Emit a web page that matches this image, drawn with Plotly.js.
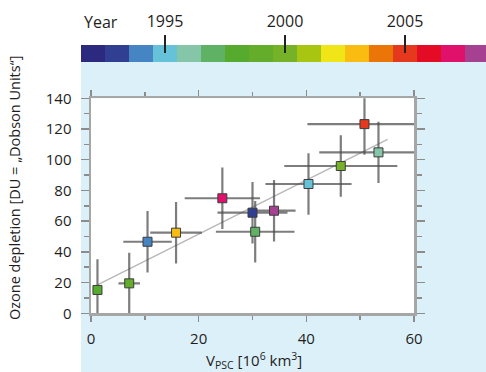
<!DOCTYPE html>
<html><head><meta charset="utf-8">
<script src="https://cdn.plot.ly/plotly-3.0.1.min.js"></script>
<style>html,body{margin:0;padding:0;background:#fff}#chart{width:486px;height:372px}</style>
</head><body><div id="chart"></div>
<script>
// Colour scale of the years
const years = [1992,1993,1994,1995,1996,1997,1998,1999,2000,2001,2002,2003,2004,2005,2006,2007,2008];
const yearColors = ['#2b2a7f','#313f92','#4585c4','#66c2d9','#85c5a8','#5fb264','#56ab2f','#63ad2b','#75b227','#a8c512','#f0e516','#fbbc12','#ec7508','#e5381d','#e30c24','#e0116a','#a54190'];
const yearTickVals = [1995,2000,2005];

// Winters: V_PSC (10^6 km^3) vs ozone depletion (DU)
const pointYears = [1998,1999,1994,2003,2007,1993,2008,1997,1995,2000,2005,1996];
const vpsc      = [1.2, 7.1, 10.5, 15.8, 24.4, 30.0, 34.0, 30.5, 40.4, 46.4, 50.8, 53.4];
const vpscErr   = [0.5, 2.0, 4.5, 4.8, 7.0, 6.5, 4.0, 7.3, 8.0, 10.5, 10.6, 11.0];
const ozoneLoss = [15.2, 19.5, 46.6, 52.5, 74.9, 65.5, 66.8, 53.1, 84.2, 95.9, 123.2, 104.8];
const ozoneErr  = [20, 20, 20, 20, 20, 20, 20, 20, 20, 20, 20, 20];
const fitXRange = [1.2, 55.1];

const xTickVals = [0,20,40,60];
const yTickVals = [0,20,40,60,80,100,120,140];

// least squares fit
const n = vpsc.length;
const mx = vpsc.reduce((a,b)=>a+b,0)/n;
const my = ozoneLoss.reduce((a,b)=>a+b,0)/n;
let sxy=0,sxx=0;
for(let i=0;i<n;i++){sxy+=(vpsc[i]-mx)*(ozoneLoss[i]-my);sxx+=(vpsc[i]-mx)**2;}
const slope = sxy/sxx, icpt = my-slope*mx;
const fitY = fitXRange.map(x=>icpt+slope*x);

const pointColors = pointYears.map(y=>yearColors[years.indexOf(y)]);

const W=486,H=372;
const px = v => v/W;
const py = v => (H-v)/H;
const axisGray = '#a6a6a6';
const txt = '#1e1e1e';

const traces = [
  {type:'bar', x:years, y:years.map(()=>1), width:1, base:0, xaxis:'x2', yaxis:'y2',
   marker:{color:yearColors, line:{width:0}}, hoverinfo:'skip'},
  {type:'scatter', mode:'lines', x:fitXRange, y:fitY, line:{color:'#b8b8b8', width:1.5}, hoverinfo:'skip'},
  {type:'scatter', mode:'markers', x:vpsc, y:ozoneLoss,
   error_x:{type:'data', array:vpscErr, color:'rgba(75,75,75,0.72)', thickness:2.2, width:0},
   error_y:{type:'data', array:ozoneErr, color:'rgba(75,75,75,0.72)', thickness:2.2, width:0},
   marker:{symbol:'square', size:9, color:pointColors, line:{color:'#3c3c3c', width:1}}}
];

const layout = {
  width:W, height:H, margin:{l:0,r:0,t:0,b:0},
  paper_bgcolor:'#ffffff', plot_bgcolor:'rgba(0,0,0,0)', showlegend:false,
  font:{family:'Open Sans, sans-serif', size:15, color:txt},
  bargap:0,
  xaxis:{domain:[px(91),px(414)], range:[0,60], anchor:'y',
    tickvals:xTickVals, ticks:'outside', ticklen:6, tickwidth:1.5, tickcolor:'#8c8c8c',
    minor:{dtick:10, ticks:'outside', ticklen:4, tickwidth:1.5, tickcolor:'#8c8c8c'},
    showline:true, linecolor:axisGray, linewidth:2.5, mirror:'ticks',
    showgrid:false, zeroline:false, ticklabelstandoff:4, tickfont:{size:15, color:txt}},
  yaxis:{domain:[py(313.3),py(98.3)], range:[0,140], anchor:'x',
    tickvals:yTickVals, ticks:'outside', ticklen:8, tickwidth:1.5, tickcolor:'#8c8c8c',
    minor:{dtick:10, ticks:'outside', ticklen:5, tickwidth:1.5, tickcolor:'#8c8c8c'},
    showline:true, linecolor:axisGray, linewidth:2.5, mirror:'ticks',
    showgrid:false, zeroline:false, ticklabelstandoff:6, tickfont:{size:15, color:txt}},
  xaxis2:{domain:[px(81),1], range:[1991.5, 1991.5+(W-81)/24], anchor:'free', position:py(53),
    side:'top', tickvals:yearTickVals, ticks:'outside', ticklen:18, tickwidth:1.5, tickcolor:'#222',
    showline:false, showgrid:false, zeroline:false, tickfont:{size:16, color:txt}, ticklabelstandoff:2},
  yaxis2:{domain:[py(62),py(45)], range:[0,1], anchor:'x2', visible:false},
  shapes:[
    {type:'rect', xref:'paper', yref:'paper', x0:px(81), x1:1, y0:0, y1:py(62), fillcolor:'#dcf0f9', line:{width:0}, layer:'below'},
    {type:'rect', xref:'x domain', yref:'y domain', x0:0, x1:1, y0:0, y1:1, fillcolor:'#ffffff', line:{width:0}, layer:'below'}
  ],
  annotations:[
    {text:'Year', xref:'paper', yref:'paper', x:px(82), y:py(22), xanchor:'left', yanchor:'middle', showarrow:false, font:{size:16, color:txt}},
    {text:'Ozone depletion [DU = „Dobson Units“]', xref:'paper', yref:'paper', x:px(14), y:py(188), textangle:-90, xanchor:'center', yanchor:'middle', showarrow:false, font:{size:14.5, color:txt}},
    {text:'V<sub>PSC</sub> [10<sup>6</sup> km<sup>3</sup>]', xref:'paper', yref:'paper', x:px(254), y:py(360), xanchor:'center', yanchor:'middle', showarrow:false, font:{size:15, color:txt}}
  ]
};
Plotly.newPlot('chart', traces, layout, {staticPlot:true});
</script></body></html>
